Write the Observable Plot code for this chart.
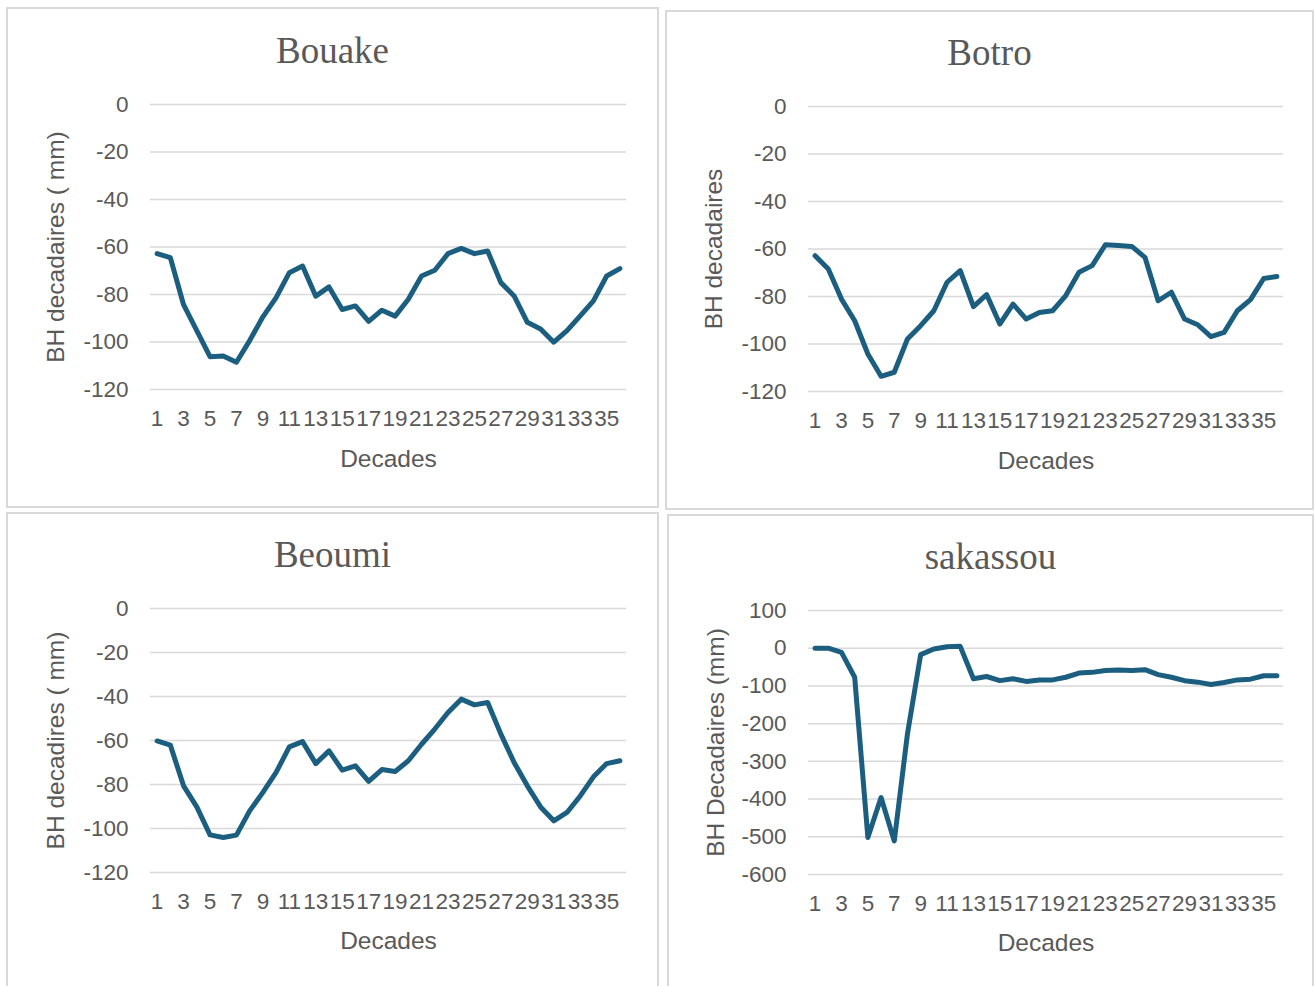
<!DOCTYPE html>
<html><head><meta charset="utf-8">
<script src="https://cdn.jsdelivr.net/npm/d3@7"></script>
<script src="https://cdn.jsdelivr.net/npm/@observablehq/plot@0.6"></script>
<style>
body{margin:0;background:#fff;width:1314px;height:986px;overflow:hidden;position:relative;font-family:"Liberation Sans",Arial,sans-serif}
.panel{position:absolute;border:2px solid #d9d9d9;box-sizing:border-box;background:#fff}
.title{position:absolute;text-align:center;font-family:"Liberation Serif","Times New Roman",serif;font-size:37px;line-height:42px;color:#595959}
.plot{position:absolute}
.plot g[aria-label$="axis label"]{font-size:24.5px}
</style></head><body>
<script>
// ---- data ----
const decades = d3.range(1, 37);
const xTickLabels = d3.range(1, 36, 2);
const titles = ["Bouake", "Botro", "Beoumi", "sakassou"];
const yLabels = ["BH decadaires ( mm)", "BH decadaires", "BH decadires ( mm)", "BH Decadaires (mm)"];
const yTicksSmall = [0, -20, -40, -60, -80, -100, -120];
const yTicksLarge = [100, 0, -100, -200, -300, -400, -500, -600];
const bouake = [-62.8,-64.5,-84.3,-95.2,-106.2,-105.9,-108.5,-99.4,-89.4,-81.3,-70.8,-68.0,-80.7,-76.8,-86.3,-84.8,-91.3,-86.6,-89.1,-82.0,-72.2,-69.8,-62.8,-60.6,-62.8,-61.7,-75.0,-80.6,-91.7,-94.5,-100.1,-95.2,-89.0,-82.7,-72.2,-69.1];
const botro = [-62.8,-68.4,-81.1,-90.2,-104.2,-113.6,-111.9,-97.9,-92.3,-86.0,-74.0,-69.1,-84.3,-79.2,-91.6,-83.2,-89.5,-86.7,-86.0,-79.6,-69.8,-67.0,-58.2,-58.5,-58.9,-63.5,-81.8,-78.2,-89.5,-91.9,-96.9,-95.1,-86.0,-81.3,-72.4,-71.6];
const beoumi = [-60.2,-62.1,-80.6,-90.2,-102.9,-104.1,-103.0,-92.0,-83.6,-74.5,-62.9,-60.5,-70.5,-64.7,-73.5,-71.5,-78.6,-73.2,-74.1,-69.2,-61.7,-54.8,-47.3,-41.2,-43.8,-42.7,-57.1,-70.0,-80.6,-90.2,-96.5,-92.7,-85.2,-76.5,-70.5,-69.2];
const sakassou = [0,0,-11,-77,-502,-396,-511,-227,-17,-2,4,5,-81,-75,-86,-81,-88,-84,-84,-77,-66,-64,-59,-58,-59,-57,-70,-77,-86,-90,-96,-91,-84,-82,-73,-73];
const series = [bouake, botro, beoumi, sakassou];
const yTickSets = [yTicksSmall, yTicksSmall, yTicksSmall, yTicksLarge];

// ---- layout (page pixels) ----
const layout = [
  {left: 6,   top: 7,   w: 653, h: 501, x0: 150, x1: 626,  y0: 104, y1: 389, ty: 51,  lo: 104, xo: 77},
  {left: 665, top: 10,  w: 649, h: 500, x0: 808, x1: 1283, y0: 106, y1: 391, ty: 53,  lo: 104, xo: 77},
  {left: 6,   top: 512, w: 653, h: 480, x0: 150, x1: 626,  y0: 608, y1: 872, ty: 555, lo: 104, xo: 76},
  {left: 667, top: 514, w: 647, h: 480, x0: 808, x1: 1283, y0: 610, y1: 874, ty: 557, lo: 102, xo: 76}
];

layout.forEach((L, i) => {
  const panel = document.createElement("div");
  panel.className = "panel";
  Object.assign(panel.style, {left: L.left + "px", top: L.top + "px", width: L.w + "px", height: L.h + "px"});
  document.body.appendChild(panel);

  const t = document.createElement("div");
  t.className = "title";
  t.textContent = titles[i];
  Object.assign(t.style, {left: L.left + "px", width: L.w + "px", top: (L.ty - 21) + "px"});

  const ticks = yTickSets[i];
  const vals = series[i];
  const mTop = 20, mBottom = 95;
  const chart = Plot.plot({
    width: L.w,
    height: (L.y1 - L.y0) + mTop + mBottom,
    marginTop: mTop,
    marginBottom: mBottom,
    marginLeft: L.x0 - L.left,
    marginRight: L.left + L.w - L.x1,
    style: {fontFamily: "'Liberation Sans', Arial, sans-serif", fontSize: "22.5px", color: "#595959", background: "transparent", overflow: "visible"},
    x: {domain: [0.5, 36.5]},
    y: {domain: [d3.min(ticks), d3.max(ticks)]},
    marks: [
      Plot.gridY(ticks, {stroke: "#d9d9d9", strokeOpacity: 1, strokeWidth: 1.5}),
      Plot.axisY(ticks, {tickSize: 0, tickPadding: 22, tickFormat: d => String(d), label: yLabels[i], labelAnchor: "center", labelOffset: L.lo, labelArrow: "none"}),
      Plot.axisX(xTickLabels, {tickSize: 0, tickPadding: 21, tickFormat: d => String(d), label: "Decades", labelAnchor: "center", labelOffset: L.xo, labelArrow: "none"}),
      Plot.line(decades, {x: d => d, y: (d, j) => vals[j], stroke: "#1b5e80", strokeWidth: 5, strokeLinejoin: "round", strokeLinecap: "round"})
    ]
  });
  chart.classList.add("plot");
  Object.assign(chart.style, {left: L.left + "px", top: (L.y0 - mTop) + "px"});
  document.body.appendChild(chart);
  document.body.appendChild(t);
});
</script>
</body></html>
